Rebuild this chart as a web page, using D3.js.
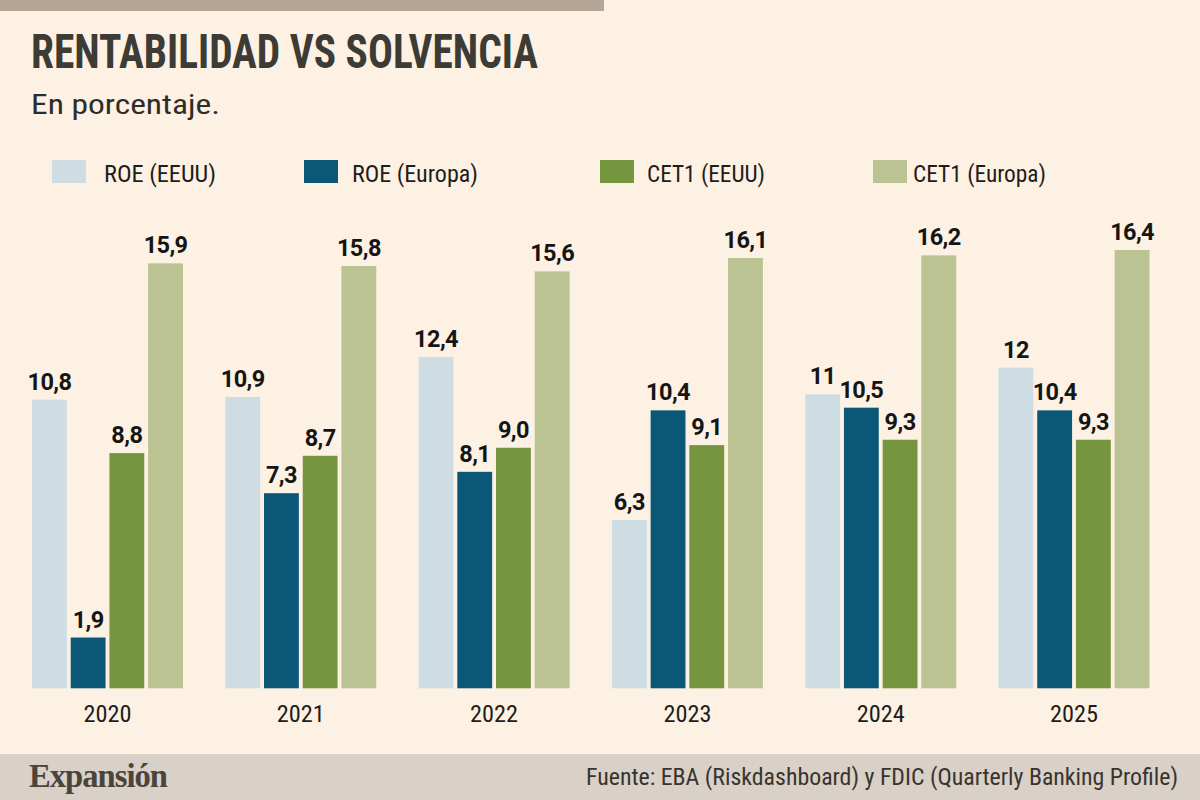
<!DOCTYPE html>
<html>
<head>
<meta charset="utf-8">
<script src="https://cdn.jsdelivr.net/npm/d3@7"></script>
<style>
  html, body { margin: 0; padding: 0; background: #fdf1e3; }
  svg { display: block; }
</style>
</head>
<body>
<svg id="chart" width="1200" height="800"></svg>
<script>
// ---- Data ----
const years = ["2020", "2021", "2022", "2023", "2024", "2025"];
const seriesNames = ["ROE (EEUU)", "ROE (Europa)", "CET1 (EEUU)", "CET1 (Europa)"];
const roeEEUU   = [10.8, 10.9, 12.4, 6.3, 11, 12];
const roeEuropa = [1.9, 7.3, 8.1, 10.4, 10.5, 10.4];
const cet1EEUU  = [8.8, 8.7, 9.0, 9.1, 9.3, 9.3];
const cet1Europa = [15.9, 15.8, 15.6, 16.1, 16.2, 16.4];
const labelsRoeEEUU   = ["10,8", "10,9", "12,4", "6,3", "11", "12"];
const labelsRoeEuropa = ["1,9", "7,3", "8,1", "10,4", "10,5", "10,4"];
const labelsCet1EEUU  = ["8,8", "8,7", "9,0", "9,1", "9,3", "9,3"];
const labelsCet1Europa = ["15,9", "15,8", "15,6", "16,1", "16,2", "16,4"];
const seriesColors = ["#cddde3", "#0b5777", "#76953f", "#bbc392"];

const title = "RENTABILIDAD VS SOLVENCIA";
const subtitle = "En porcentaje.";
const source = "Fuente: EBA (Riskdashboard) y FDIC (Quarterly Banking Profile)";
const brand = "Expansión";

// ---- Build table ----
const seriesValues = [roeEEUU, roeEuropa, cet1EEUU, cet1Europa];
const seriesLabels = [labelsRoeEEUU, labelsRoeEuropa, labelsCet1EEUU, labelsCet1Europa];
const table = years.map((y, i) => ({
  year: y,
  bars: seriesNames.map((s, j) => ({ series: s, idx: j, value: seriesValues[j][i], label: seriesLabels[j][i] }))
}));

const svg = d3.select("#chart");
const condensed = "'Roboto Condensed','Liberation Sans Narrow','DejaVu Sans Condensed',Roboto,'Liberation Sans',sans-serif";

// Background
svg.append("rect").attr("x", 0).attr("y", 0).attr("width", 1200).attr("height", 800).attr("fill", "#fdf1e3");
// Top bar
svg.append("rect").attr("x", 0).attr("y", 0).attr("width", 604).attr("height", 11).attr("fill", "#b5a696");
// Footer band
svg.append("rect").attr("x", 0).attr("y", 754).attr("width", 1200).attr("height", 46).attr("fill", "#d9d0c7");

// Title
svg.append("text").text(title)
  .attr("x", 31).attr("y", 68)
  .attr("font-family", condensed).attr("font-weight", 700).attr("font-size", 48)
  .attr("fill", "#3d3b35")
  .attr("textLength", 507).attr("lengthAdjust", "spacingAndGlyphs");

svg.append("text").text(subtitle)
  .attr("x", 31).attr("y", 114)
  .attr("font-family", condensed).attr("font-weight", 400).attr("font-size", 28)
  .attr("fill", "#2e2c28")
  .attr("textLength", 189).attr("lengthAdjust", "spacingAndGlyphs");

// Legend
const legendSquareX = [52, 304, 600, 873];
const legendTextX = [104, 352, 647, 913];
const legendTextW = [112, 126, 118, 133];
const legend = svg.append("g");
seriesNames.forEach((s, j) => {
  legend.append("rect")
    .attr("x", legendSquareX[j]).attr("y", 160).attr("width", 34).attr("height", 23)
    .attr("fill", seriesColors[j]);
  legend.append("text").text(s)
    .attr("x", legendTextX[j]).attr("y", 181.5)
    .attr("font-family", condensed).attr("font-size", 24)
    .attr("fill", "#1e1d1b")
    .attr("textLength", legendTextW[j]).attr("lengthAdjust", "spacingAndGlyphs");
});

// Scales
const x0 = d3.scaleBand().domain(years).range([32, 1149.5]).paddingInner(0.219).paddingOuter(0);
const x1 = d3.scaleBand().domain(seriesNames).range([0, x0.bandwidth()]).paddingInner(0.1).paddingOuter(0);
const y = d3.scaleLinear().domain([0, 16.4]).range([688.3, 250]);

const groups = svg.append("g").selectAll("g").data(table).join("g")
  .attr("transform", d => `translate(${x0(d.year)},0)`);

groups.selectAll("rect").data(d => d.bars).join("rect")
  .attr("x", d => x1(d.series))
  .attr("y", d => y(d.value))
  .attr("width", x1.bandwidth())
  .attr("height", d => y(0) - y(d.value))
  .attr("fill", d => seriesColors[d.idx]);

groups.selectAll("text.val").data(d => d.bars).join("text")
  .attr("class", "val")
  .text(d => d.label)
  .attr("x", d => x1(d.series) + x1.bandwidth() / 2)
  .attr("y", d => y(d.value) - 10)
  .attr("text-anchor", "middle")
  .attr("font-family", "Roboto, 'Liberation Sans', sans-serif")
  .attr("font-weight", 700).attr("font-size", 23.5)
  .attr("letter-spacing", -0.6)
  .attr("fill", "#151515");

// X axis (year labels)
const xAxis = d3.axisBottom(x0).tickSize(0).tickPadding(0);
const axisG = svg.append("g").attr("transform", "translate(0,706)").call(xAxis);
axisG.select(".domain").remove();
axisG.selectAll("text")
  .attr("dy", 0).attr("y", 16.3)
  .attr("font-family", condensed).attr("font-size", 23)
  .attr("fill", "#1e1d1b")
  .attr("textLength", 48).attr("lengthAdjust", "spacingAndGlyphs");

// Footer
svg.append("text").text(brand)
  .attr("x", 29).attr("y", 787)
  .attr("font-family", "'Liberation Serif','DejaVu Serif',serif").attr("font-weight", 700).attr("font-size", 33)
  .attr("fill", "#4a443c").attr("letter-spacing", -1)
  .attr("textLength", 138).attr("lengthAdjust", "spacingAndGlyphs");

svg.append("text").text(source)
  .attr("x", 586).attr("y", 785)
  .attr("font-family", condensed).attr("font-size", 23)
  .attr("fill", "#38342f")
  .attr("textLength", 592).attr("lengthAdjust", "spacingAndGlyphs");
</script>
</body>
</html>
